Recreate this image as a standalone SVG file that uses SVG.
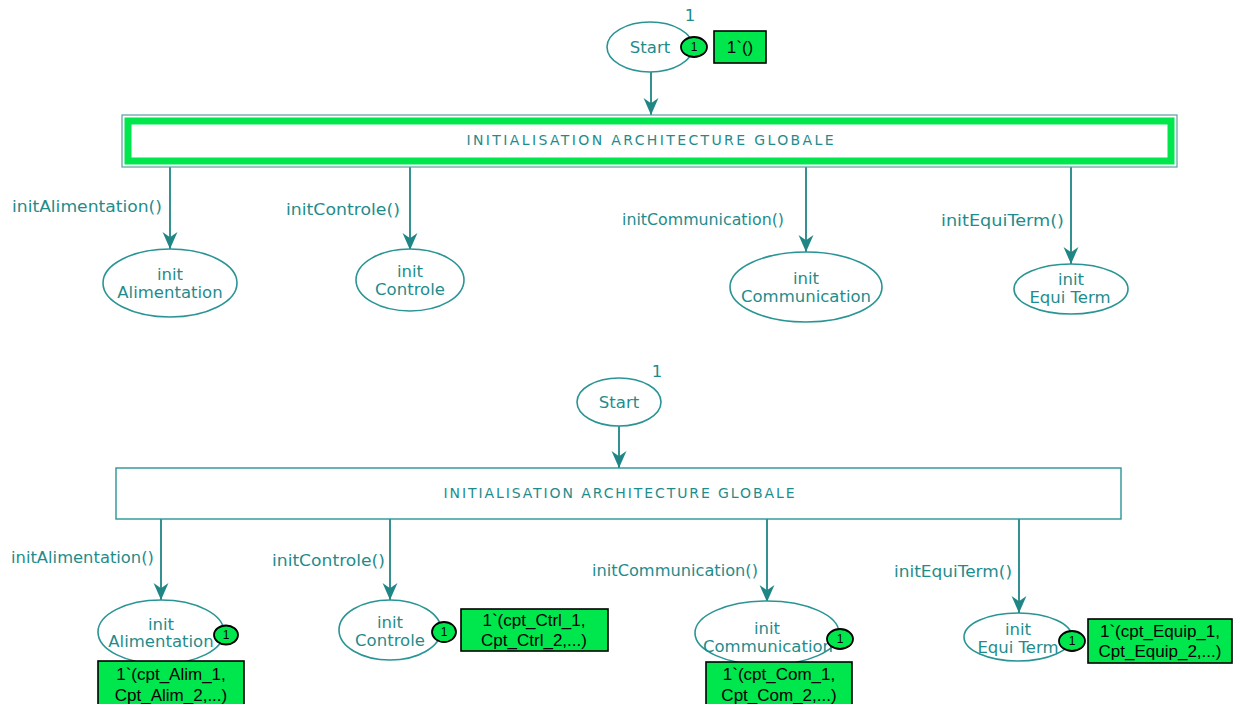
<svg xmlns="http://www.w3.org/2000/svg" width="1233" height="704" viewBox="0 0 1233 704">
  <style>
    .place { fill: #ffffff; stroke: #2a9494; stroke-width: 1.6; }
    .lbl { font-family: "DejaVu Sans", Verdana, sans-serif; fill: #1f8c8c; font-size: 15px; }
    .in { font-family: "DejaVu Sans", Verdana, sans-serif; fill: #1f8c8c; font-size: 16.5px; text-anchor: middle; }
    .title { font-family: "DejaVu Sans", Verdana, sans-serif; fill: #1f8c8c; font-size: 14px; text-anchor: middle; }
    .arc { stroke: #1f8585; stroke-width: 1.8; fill: none; marker-end: url(#head); }
    .tok { fill: #00e64d; stroke: #000000; stroke-width: 1.8; }
    .tokn { font-family: "Liberation Sans", Arial, sans-serif; font-size: 12px; fill: #000000; text-anchor: middle; }
    .mark { fill: #00e64d; stroke: #000000; stroke-width: 1.6; }
    .markt { font-family: "Liberation Sans", Arial, sans-serif; font-size: 17px; fill: #000000; text-anchor: middle; }
  </style>
  <defs>
    <marker id="head" viewBox="0 0 16 16" refX="16" refY="8" markerWidth="17" markerHeight="17" markerUnits="userSpaceOnUse" orient="auto">
      <path d="M0,1 L16,8 L0,15 L5,8 z" fill="#1f8585"/>
    </marker>
  </defs>
  <rect width="1233" height="704" fill="#ffffff"/>

  <!-- connectors -->
  <g id="arcs">
    <line class="arc" x1="651" y1="72" x2="651" y2="115"/>
    <line class="arc" x1="170" y1="167" x2="170" y2="249"/>
    <line class="arc" x1="410" y1="167" x2="410" y2="250"/>
    <line class="arc" x1="806" y1="167" x2="806" y2="252"/>
    <line class="arc" x1="1071" y1="167" x2="1071" y2="264"/>
    <text class="lbl" x="12" y="212" textLength="150" lengthAdjust="spacingAndGlyphs">initAlimentation()</text>
    <text class="lbl" x="286" y="215" textLength="114" lengthAdjust="spacingAndGlyphs">initControle()</text>
    <text class="lbl" x="622" y="225" textLength="162" lengthAdjust="spacingAndGlyphs">initCommunication()</text>
    <text class="lbl" x="941" y="226" textLength="123" lengthAdjust="spacingAndGlyphs">initEquiTerm()</text>

    <line class="arc" x1="619" y1="426" x2="619" y2="468"/>
    <line class="arc" x1="161" y1="519" x2="161" y2="600"/>
    <line class="arc" x1="390" y1="519" x2="390" y2="600"/>
    <line class="arc" x1="767" y1="519" x2="767" y2="602"/>
    <line class="arc" x1="1019" y1="519" x2="1019" y2="613"/>
    <text class="lbl" x="11" y="563" textLength="143" lengthAdjust="spacingAndGlyphs">initAlimentation()</text>
    <text class="lbl" x="272" y="566" textLength="113" lengthAdjust="spacingAndGlyphs">initControle()</text>
    <text class="lbl" x="592" y="576" textLength="166" lengthAdjust="spacingAndGlyphs">initCommunication()</text>
    <text class="lbl" x="894" y="577" textLength="118" lengthAdjust="spacingAndGlyphs">initEquiTerm()</text>
  </g>

  <!-- upper net -->
  <g id="start-a">
    <ellipse class="place" cx="650" cy="47" rx="43" ry="25"/>
    <text class="in" x="650" y="53">Start</text>
    <text class="in" x="690" y="21">1</text>
    <ellipse class="tok" cx="694" cy="47" rx="13" ry="10"/>
    <text class="tokn" x="694" y="51">1</text>
    <rect class="mark" x="714" y="31" width="52" height="32"/>
    <text class="markt" x="740" y="53">1`()</text>
  </g>
  <g id="trans-a">
    <rect x="122" y="115" width="1055" height="52" fill="#ffffff" stroke="#5aa0a0" stroke-width="1.2"/>
    <rect x="128" y="121" width="1043" height="40" fill="none" stroke="#00e64d" stroke-width="7"/>
    <text class="title" x="650" y="145" textLength="367" lengthAdjust="spacing">INITIALISATION ARCHITECTURE GLOBALE</text>
  </g>
  <g id="alim-a">
    <ellipse class="place" cx="170" cy="283" rx="67" ry="34"/>
    <text class="in" x="170" y="280">init</text>
    <text class="in" x="170" y="298">Alimentation</text>
  </g>
  <g id="ctrl-a">
    <ellipse class="place" cx="410" cy="280" rx="54" ry="31"/>
    <text class="in" x="410" y="277">init</text>
    <text class="in" x="410" y="295">Controle</text>
  </g>
  <g id="com-a">
    <ellipse class="place" cx="806" cy="287" rx="76" ry="35"/>
    <text class="in" x="806" y="284">init</text>
    <text class="in" x="806" y="302">Communication</text>
  </g>
  <g id="equi-a">
    <ellipse class="place" cx="1071" cy="289" rx="57" ry="25"/>
    <text class="in" x="1071" y="285">init</text>
    <text class="in" x="1070" y="303">Equi Term</text>
  </g>

  <!-- lower net -->
  <g id="start-b">
    <ellipse class="place" cx="619" cy="402" rx="42" ry="24"/>
    <text class="in" x="619" y="408">Start</text>
    <text class="in" x="657" y="377">1</text>
  </g>
  <g id="trans-b">
    <rect x="116" y="468" width="1005" height="51" fill="#ffffff" stroke="#2a9494" stroke-width="1.4"/>
    <text class="title" x="619" y="498" textLength="351" lengthAdjust="spacing">INITIALISATION ARCHITECTURE GLOBALE</text>
  </g>
  <g id="alim-b">
    <ellipse class="place" cx="161" cy="632" rx="63" ry="32"/>
    <text class="in" x="161" y="630">init</text>
    <text class="in" x="161" y="647">Alimentation</text>
    <ellipse class="tok" cx="226" cy="635" rx="12" ry="9.5"/>
    <text class="tokn" x="226" y="639">1</text>
    <rect class="mark" x="98" y="661" width="146" height="50"/>
    <text class="markt" x="171" y="680">1`(cpt_Alim_1,</text>
    <text class="markt" x="171" y="701">Cpt_Alim_2,...)</text>
  </g>
  <g id="ctrl-b">
    <ellipse class="place" cx="390" cy="630" rx="51" ry="30"/>
    <text class="in" x="390" y="628">init</text>
    <text class="in" x="390" y="646">Controle</text>
    <ellipse class="tok" cx="444" cy="632" rx="12" ry="10"/>
    <text class="tokn" x="444" y="636">1</text>
    <rect class="mark" x="461" y="609" width="147" height="42"/>
    <text class="markt" x="534" y="626">1`(cpt_Ctrl_1,</text>
    <text class="markt" x="534" y="646">Cpt_Ctrl_2,...)</text>
  </g>
  <g id="com-b">
    <ellipse class="place" cx="767" cy="633" rx="72" ry="32"/>
    <text class="in" x="767" y="634">init</text>
    <text class="in" x="768" y="652">Communication</text>
    <ellipse class="tok" cx="840" cy="639" rx="13" ry="10"/>
    <text class="tokn" x="840" y="643">1</text>
    <rect class="mark" x="706" y="662" width="146" height="50"/>
    <text class="markt" x="779" y="680">1`(cpt_Com_1,</text>
    <text class="markt" x="779" y="701">Cpt_Com_2,...)</text>
  </g>
  <g id="equi-b">
    <ellipse class="place" cx="1018" cy="637" rx="54" ry="24"/>
    <text class="in" x="1018" y="635">init</text>
    <text class="in" x="1018" y="653">Equi Term</text>
    <ellipse class="tok" cx="1072" cy="641" rx="13" ry="10"/>
    <text class="tokn" x="1072" y="645">1</text>
    <rect class="mark" x="1088" y="619" width="144" height="44"/>
    <text class="markt" x="1160" y="637">1`(cpt_Equip_1,</text>
    <text class="markt" x="1160" y="657">Cpt_Equip_2,...)</text>
  </g>
</svg>
